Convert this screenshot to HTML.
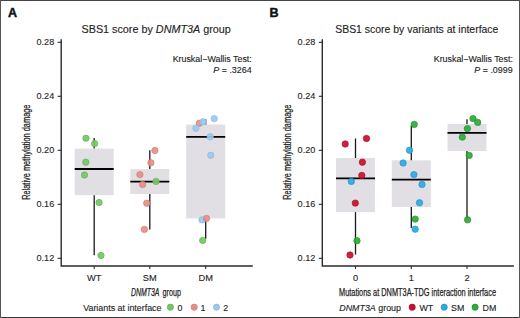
<!DOCTYPE html>
<html><head><meta charset="utf-8"><style>
html,body{margin:0;padding:0;background:#fff;}

svg{display:block;}
</style></head><body>
<svg width="520" height="318" viewBox="0 0 520 318">
<rect x="0" y="0" width="520" height="318" fill="#fff"/>
<rect x="74.70" y="148.6" width="39.0" height="46.60" fill="#e1dfe3"/>
<line x1="94.2" y1="138.0" x2="94.2" y2="148.6" stroke="#1a1a1a" stroke-width="1.3"/>
<line x1="94.2" y1="195.2" x2="94.2" y2="255.3" stroke="#1a1a1a" stroke-width="1.3"/>
<line x1="74.70" y1="169.0" x2="113.70" y2="169.0" stroke="#000" stroke-width="1.8"/>
<rect x="130.30" y="169.1" width="39.0" height="24.90" fill="#e1dfe3"/>
<line x1="149.8" y1="150.2" x2="149.8" y2="169.1" stroke="#1a1a1a" stroke-width="1.3"/>
<line x1="149.8" y1="194.0" x2="149.8" y2="229.4" stroke="#1a1a1a" stroke-width="1.3"/>
<line x1="130.30" y1="181.7" x2="169.30" y2="181.7" stroke="#000" stroke-width="1.8"/>
<rect x="186.20" y="124.5" width="39.0" height="93.90" fill="#e1dfe3"/>
<line x1="205.7" y1="119.3" x2="205.7" y2="124.5" stroke="#1a1a1a" stroke-width="1.3"/>
<line x1="205.7" y1="218.4" x2="205.7" y2="239.0" stroke="#1a1a1a" stroke-width="1.3"/>
<line x1="186.20" y1="136.8" x2="225.20" y2="136.8" stroke="#000" stroke-width="1.8"/>
<circle cx="85.95" cy="138.2" r="3.2" fill="#76c566" fill-opacity="0.92" stroke="#63ad58" stroke-width="0.7" stroke-opacity="0.9"/>
<circle cx="94.6" cy="143.6" r="3.2" fill="#76c566" fill-opacity="0.92" stroke="#63ad58" stroke-width="0.7" stroke-opacity="0.9"/>
<circle cx="85.8" cy="162.2" r="3.2" fill="#76c566" fill-opacity="0.92" stroke="#63ad58" stroke-width="0.7" stroke-opacity="0.9"/>
<circle cx="84.5" cy="175" r="3.2" fill="#76c566" fill-opacity="0.92" stroke="#63ad58" stroke-width="0.7" stroke-opacity="0.9"/>
<circle cx="99.1" cy="202.5" r="3.2" fill="#76c566" fill-opacity="0.92" stroke="#63ad58" stroke-width="0.7" stroke-opacity="0.9"/>
<circle cx="101" cy="255.5" r="3.2" fill="#76c566" fill-opacity="0.92" stroke="#63ad58" stroke-width="0.7" stroke-opacity="0.9"/>
<circle cx="154.9" cy="150.5" r="3.2" fill="#e58f88" fill-opacity="0.92" stroke="#d27a74" stroke-width="0.7" stroke-opacity="0.9"/>
<circle cx="150.9" cy="162.8" r="3.2" fill="#e58f88" fill-opacity="0.92" stroke="#d27a74" stroke-width="0.7" stroke-opacity="0.9"/>
<circle cx="139.9" cy="174.6" r="3.2" fill="#e58f88" fill-opacity="0.92" stroke="#d27a74" stroke-width="0.7" stroke-opacity="0.9"/>
<circle cx="142.6" cy="184.5" r="3.2" fill="#e58f88" fill-opacity="0.92" stroke="#d27a74" stroke-width="0.7" stroke-opacity="0.9"/>
<circle cx="156" cy="181.4" r="3.2" fill="#76c566" fill-opacity="0.92" stroke="#63ad58" stroke-width="0.7" stroke-opacity="0.9"/>
<circle cx="146.7" cy="203.2" r="3.2" fill="#e58f88" fill-opacity="0.92" stroke="#d27a74" stroke-width="0.7" stroke-opacity="0.9"/>
<circle cx="144.4" cy="229.4" r="3.2" fill="#e58f88" fill-opacity="0.92" stroke="#d27a74" stroke-width="0.7" stroke-opacity="0.9"/>
<circle cx="199.3" cy="123.3" r="3.2" fill="#e58f88" fill-opacity="0.92" stroke="#d27a74" stroke-width="0.7" stroke-opacity="0.9"/>
<circle cx="214.2" cy="118.6" r="3.2" fill="#98caef" fill-opacity="0.92" stroke="#86b9e0" stroke-width="0.7" stroke-opacity="0.9"/>
<circle cx="203.1" cy="121.7" r="3.2" fill="#98caef" fill-opacity="0.92" stroke="#86b9e0" stroke-width="0.7" stroke-opacity="0.9"/>
<circle cx="195.9" cy="128.2" r="3.2" fill="#98caef" fill-opacity="0.92" stroke="#86b9e0" stroke-width="0.7" stroke-opacity="0.9"/>
<circle cx="210.2" cy="136.8" r="3.2" fill="#98caef" fill-opacity="0.92" stroke="#86b9e0" stroke-width="0.7" stroke-opacity="0.9"/>
<circle cx="210.8" cy="155.3" r="3.2" fill="#98caef" fill-opacity="0.92" stroke="#86b9e0" stroke-width="0.7" stroke-opacity="0.9"/>
<circle cx="202" cy="219.9" r="3.2" fill="#98caef" fill-opacity="0.92" stroke="#86b9e0" stroke-width="0.7" stroke-opacity="0.9"/>
<circle cx="206.5" cy="218.4" r="3.2" fill="#e58f88" fill-opacity="0.92" stroke="#d27a74" stroke-width="0.7" stroke-opacity="0.9"/>
<circle cx="202.7" cy="240.4" r="3.2" fill="#76c566" fill-opacity="0.92" stroke="#63ad58" stroke-width="0.7" stroke-opacity="0.9"/>
<path d="M61.2 39.3 V266 H252.8" fill="none" stroke="#2b2b2b" stroke-width="1.4"/>
<line x1="57.7" y1="42.3" x2="61.2" y2="42.3" stroke="#2b2b2b" stroke-width="1.1"/>
<text x="54.2" y="45.3" text-anchor="end" font-size="9.1" fill="#262626" font-family="Liberation Sans" stroke="#262626" stroke-width="0.12">0.28</text>
<line x1="57.7" y1="96.3" x2="61.2" y2="96.3" stroke="#2b2b2b" stroke-width="1.1"/>
<text x="54.2" y="99.3" text-anchor="end" font-size="9.1" fill="#262626" font-family="Liberation Sans" stroke="#262626" stroke-width="0.12">0.24</text>
<line x1="57.7" y1="150.3" x2="61.2" y2="150.3" stroke="#2b2b2b" stroke-width="1.1"/>
<text x="54.2" y="153.3" text-anchor="end" font-size="9.1" fill="#262626" font-family="Liberation Sans" stroke="#262626" stroke-width="0.12">0.20</text>
<line x1="57.7" y1="204.3" x2="61.2" y2="204.3" stroke="#2b2b2b" stroke-width="1.1"/>
<text x="54.2" y="207.3" text-anchor="end" font-size="9.1" fill="#262626" font-family="Liberation Sans" stroke="#262626" stroke-width="0.12">0.16</text>
<line x1="57.7" y1="258.3" x2="61.2" y2="258.3" stroke="#2b2b2b" stroke-width="1.1"/>
<text x="54.2" y="261.3" text-anchor="end" font-size="9.1" fill="#262626" font-family="Liberation Sans" stroke="#262626" stroke-width="0.12">0.12</text>
<line x1="94.2" y1="266" x2="94.2" y2="269" stroke="#2b2b2b" stroke-width="1.1"/>
<text x="94.2" y="280.7" text-anchor="middle" font-size="9.3" fill="#262626" font-family="Liberation Sans" stroke="#262626" stroke-width="0.12">WT</text>
<line x1="149.8" y1="266" x2="149.8" y2="269" stroke="#2b2b2b" stroke-width="1.1"/>
<text x="149.8" y="280.7" text-anchor="middle" font-size="9.3" fill="#262626" font-family="Liberation Sans" stroke="#262626" stroke-width="0.12">SM</text>
<line x1="205.7" y1="266" x2="205.7" y2="269" stroke="#2b2b2b" stroke-width="1.1"/>
<text x="205.7" y="280.7" text-anchor="middle" font-size="9.3" fill="#262626" font-family="Liberation Sans" stroke="#262626" stroke-width="0.12">DM</text>
<rect x="336.00" y="158.0" width="39.0" height="54.10" fill="#e1dfe3"/>
<line x1="355.5" y1="138.5" x2="355.5" y2="158.0" stroke="#1a1a1a" stroke-width="1.3"/>
<line x1="355.5" y1="212.1" x2="355.5" y2="254.5" stroke="#1a1a1a" stroke-width="1.3"/>
<line x1="336.00" y1="178.4" x2="375.00" y2="178.4" stroke="#000" stroke-width="1.8"/>
<rect x="391.80" y="160.3" width="39.0" height="46.70" fill="#e1dfe3"/>
<line x1="411.3" y1="125.4" x2="411.3" y2="160.3" stroke="#1a1a1a" stroke-width="1.3"/>
<line x1="411.3" y1="207.0" x2="411.3" y2="228.0" stroke="#1a1a1a" stroke-width="1.3"/>
<line x1="391.80" y1="179.6" x2="430.80" y2="179.6" stroke="#000" stroke-width="1.8"/>
<rect x="447.50" y="123.9" width="39.0" height="27.20" fill="#e1dfe3"/>
<line x1="467.0" y1="119.2" x2="467.0" y2="123.9" stroke="#1a1a1a" stroke-width="1.3"/>
<line x1="467.0" y1="151.1" x2="467.0" y2="219.2" stroke="#1a1a1a" stroke-width="1.3"/>
<line x1="447.50" y1="132.9" x2="486.50" y2="132.9" stroke="#000" stroke-width="1.8"/>
<circle cx="366.5" cy="138.5" r="3.2" fill="#cc0c30" fill-opacity="0.92" stroke="#a50c28" stroke-width="0.7" stroke-opacity="0.9"/>
<circle cx="345.2" cy="144" r="3.2" fill="#cc0c30" fill-opacity="0.92" stroke="#a50c28" stroke-width="0.7" stroke-opacity="0.9"/>
<circle cx="362.4" cy="162.2" r="3.2" fill="#cc0c30" fill-opacity="0.92" stroke="#a50c28" stroke-width="0.7" stroke-opacity="0.9"/>
<circle cx="361.8" cy="175.4" r="3.2" fill="#cc0c30" fill-opacity="0.92" stroke="#a50c28" stroke-width="0.7" stroke-opacity="0.9"/>
<circle cx="351.3" cy="181.4" r="3.2" fill="#2aaae4" fill-opacity="0.92" stroke="#2390c8" stroke-width="0.7" stroke-opacity="0.9"/>
<circle cx="355.3" cy="203.1" r="3.2" fill="#cc0c30" fill-opacity="0.92" stroke="#a50c28" stroke-width="0.7" stroke-opacity="0.9"/>
<circle cx="357" cy="240.8" r="3.2" fill="#2fab36" fill-opacity="0.92" stroke="#208a28" stroke-width="0.7" stroke-opacity="0.9"/>
<circle cx="350" cy="255" r="3.2" fill="#cc0c30" fill-opacity="0.92" stroke="#a50c28" stroke-width="0.7" stroke-opacity="0.9"/>
<circle cx="414.2" cy="124.4" r="3.2" fill="#2fab36" fill-opacity="0.92" stroke="#208a28" stroke-width="0.7" stroke-opacity="0.9"/>
<circle cx="409.5" cy="150.3" r="3.2" fill="#2aaae4" fill-opacity="0.92" stroke="#2390c8" stroke-width="0.7" stroke-opacity="0.9"/>
<circle cx="403.1" cy="163" r="3.2" fill="#2aaae4" fill-opacity="0.92" stroke="#2390c8" stroke-width="0.7" stroke-opacity="0.9"/>
<circle cx="413.9" cy="174.6" r="3.2" fill="#2aaae4" fill-opacity="0.92" stroke="#2390c8" stroke-width="0.7" stroke-opacity="0.9"/>
<circle cx="422" cy="184.4" r="3.2" fill="#2aaae4" fill-opacity="0.92" stroke="#2390c8" stroke-width="0.7" stroke-opacity="0.9"/>
<circle cx="419.5" cy="202.8" r="3.2" fill="#2aaae4" fill-opacity="0.92" stroke="#2390c8" stroke-width="0.7" stroke-opacity="0.9"/>
<circle cx="415.2" cy="219.1" r="3.2" fill="#2fab36" fill-opacity="0.92" stroke="#208a28" stroke-width="0.7" stroke-opacity="0.9"/>
<circle cx="415.2" cy="229.2" r="3.2" fill="#2aaae4" fill-opacity="0.92" stroke="#2390c8" stroke-width="0.7" stroke-opacity="0.9"/>
<circle cx="473" cy="118.6" r="3.2" fill="#2fab36" fill-opacity="0.92" stroke="#208a28" stroke-width="0.7" stroke-opacity="0.9"/>
<circle cx="477.7" cy="122.4" r="3.2" fill="#2fab36" fill-opacity="0.92" stroke="#208a28" stroke-width="0.7" stroke-opacity="0.9"/>
<circle cx="467.4" cy="128.6" r="3.2" fill="#2fab36" fill-opacity="0.92" stroke="#208a28" stroke-width="0.7" stroke-opacity="0.9"/>
<circle cx="462.3" cy="137.1" r="3.2" fill="#2fab36" fill-opacity="0.92" stroke="#208a28" stroke-width="0.7" stroke-opacity="0.9"/>
<circle cx="469.2" cy="155.4" r="3.2" fill="#2fab36" fill-opacity="0.92" stroke="#208a28" stroke-width="0.7" stroke-opacity="0.9"/>
<circle cx="467.6" cy="219.8" r="3.2" fill="#2fab36" fill-opacity="0.92" stroke="#208a28" stroke-width="0.7" stroke-opacity="0.9"/>
<path d="M322.3 39.3 V266 H513.9" fill="none" stroke="#2b2b2b" stroke-width="1.4"/>
<line x1="318.8" y1="42.3" x2="322.3" y2="42.3" stroke="#2b2b2b" stroke-width="1.1"/>
<text x="315.3" y="45.3" text-anchor="end" font-size="9.1" fill="#262626" font-family="Liberation Sans" stroke="#262626" stroke-width="0.12">0.28</text>
<line x1="318.8" y1="96.3" x2="322.3" y2="96.3" stroke="#2b2b2b" stroke-width="1.1"/>
<text x="315.3" y="99.3" text-anchor="end" font-size="9.1" fill="#262626" font-family="Liberation Sans" stroke="#262626" stroke-width="0.12">0.24</text>
<line x1="318.8" y1="150.3" x2="322.3" y2="150.3" stroke="#2b2b2b" stroke-width="1.1"/>
<text x="315.3" y="153.3" text-anchor="end" font-size="9.1" fill="#262626" font-family="Liberation Sans" stroke="#262626" stroke-width="0.12">0.20</text>
<line x1="318.8" y1="204.3" x2="322.3" y2="204.3" stroke="#2b2b2b" stroke-width="1.1"/>
<text x="315.3" y="207.3" text-anchor="end" font-size="9.1" fill="#262626" font-family="Liberation Sans" stroke="#262626" stroke-width="0.12">0.16</text>
<line x1="318.8" y1="258.3" x2="322.3" y2="258.3" stroke="#2b2b2b" stroke-width="1.1"/>
<text x="315.3" y="261.3" text-anchor="end" font-size="9.1" fill="#262626" font-family="Liberation Sans" stroke="#262626" stroke-width="0.12">0.12</text>
<line x1="355.5" y1="266" x2="355.5" y2="269" stroke="#2b2b2b" stroke-width="1.1"/>
<text x="355.5" y="280.7" text-anchor="middle" font-size="9.3" fill="#262626" font-family="Liberation Sans" stroke="#262626" stroke-width="0.12">0</text>
<line x1="411.3" y1="266" x2="411.3" y2="269" stroke="#2b2b2b" stroke-width="1.1"/>
<text x="411.3" y="280.7" text-anchor="middle" font-size="9.3" fill="#262626" font-family="Liberation Sans" stroke="#262626" stroke-width="0.12">1</text>
<line x1="467.0" y1="266" x2="467.0" y2="269" stroke="#2b2b2b" stroke-width="1.1"/>
<text x="467.0" y="280.7" text-anchor="middle" font-size="9.3" fill="#262626" font-family="Liberation Sans" stroke="#262626" stroke-width="0.12">2</text>
<text x="7.9" y="16.8" font-size="12.5" font-weight="bold" fill="#111" font-family="Liberation Sans" stroke="#111" stroke-width="0.45">A</text>
<text x="269.4" y="16.6" font-size="12.5" font-weight="bold" fill="#111" font-family="Liberation Sans" stroke="#111" stroke-width="0.45">B</text>
<text x="81.5" y="32.8" font-size="10.4" fill="#222" font-family="Liberation Sans" textLength="149.3" lengthAdjust="spacingAndGlyphs" stroke="#222" stroke-width="0.12">SBS1 score by <tspan font-style="italic">DNMT3A</tspan> group</text>
<text x="335.2" y="32.8" font-size="10.4" fill="#222" font-family="Liberation Sans" textLength="163.2" lengthAdjust="spacingAndGlyphs" stroke="#222" stroke-width="0.12">SBS1 score by variants at interface</text>
<text x="251.8" y="61.6" text-anchor="end" font-size="8.9" fill="#222" font-family="Liberation Sans" stroke="#222" stroke-width="0.12">Kruskal−Wallis Test:</text>
<text x="251.6" y="72.6" text-anchor="end" font-size="8.9" fill="#222" font-family="Liberation Sans" stroke="#222" stroke-width="0.12"><tspan font-style="italic">P</tspan> = .3264</text>
<text x="512.9" y="61.6" text-anchor="end" font-size="8.9" fill="#222" font-family="Liberation Sans" stroke="#222" stroke-width="0.12">Kruskal−Wallis Test:</text>
<text x="512.6" y="72.6" text-anchor="end" font-size="8.9" fill="#222" font-family="Liberation Sans" stroke="#222" stroke-width="0.12"><tspan font-style="italic">P</tspan> = .0999</text>
<text transform="translate(29.6,152.2) rotate(-90)" text-anchor="middle" font-size="10.7" fill="#222" font-family="Liberation Sans" textLength="95.3" lengthAdjust="spacingAndGlyphs" stroke="#222" stroke-width="0.25">Relative methylation damage</text>
<text transform="translate(290.70000000000005,152.2) rotate(-90)" text-anchor="middle" font-size="10.7" fill="#222" font-family="Liberation Sans" textLength="95.3" lengthAdjust="spacingAndGlyphs" stroke="#222" stroke-width="0.25">Relative methylation damage</text>
<text x="131.0" y="295.5" font-size="10.7" font-style="italic" fill="#222" font-family="Liberation Sans" textLength="28.4" lengthAdjust="spacingAndGlyphs" stroke="#222" stroke-width="0.25">DNMT3A</text>
<text x="162.6" y="295.5" font-size="10.7" fill="#222" font-family="Liberation Sans" textLength="18.4" lengthAdjust="spacingAndGlyphs" stroke="#222" stroke-width="0.25">group</text>
<text x="417.5" y="295.5" text-anchor="middle" font-size="10.7" fill="#222" font-family="Liberation Sans" textLength="157" lengthAdjust="spacingAndGlyphs" stroke="#222" stroke-width="0.25">Mutations at DNMT3A-TDG interaction interface</text>
<text x="83.2" y="310.5" font-size="8.9" fill="#222" font-family="Liberation Sans" stroke="#222" stroke-width="0.12">Variants at interface</text>
<circle cx="170.4" cy="307.2" r="3.1" fill="#76c566" stroke="#63ad58" stroke-width="0.7"/>
<text x="177.6" y="310.5" font-size="8.9" fill="#222" font-family="Liberation Sans" stroke="#222" stroke-width="0.12">0</text>
<circle cx="194.2" cy="307.2" r="3.1" fill="#e58f88" stroke="#d27a74" stroke-width="0.7"/>
<text x="200.6" y="310.5" font-size="8.9" fill="#222" font-family="Liberation Sans" stroke="#222" stroke-width="0.12">1</text>
<circle cx="216.5" cy="307.2" r="3.1" fill="#98caef" stroke="#86b9e0" stroke-width="0.7"/>
<text x="223.2" y="310.5" font-size="8.9" fill="#222" font-family="Liberation Sans" stroke="#222" stroke-width="0.12">2</text>
<text x="339.3" y="310.5" font-size="8.9" fill="#222" font-family="Liberation Sans" stroke="#222" stroke-width="0.12"><tspan font-style="italic">DNMT3A</tspan> group</text>
<circle cx="412.2" cy="307.2" r="3.1" fill="#cc0c30" stroke="#a50c28" stroke-width="0.7"/>
<text x="419.4" y="310.5" font-size="8.9" fill="#222" font-family="Liberation Sans" stroke="#222" stroke-width="0.12">WT</text>
<circle cx="444.2" cy="307.2" r="3.1" fill="#2aaae4" stroke="#2390c8" stroke-width="0.7"/>
<text x="451" y="310.5" font-size="8.9" fill="#222" font-family="Liberation Sans" stroke="#222" stroke-width="0.12">SM</text>
<circle cx="475.1" cy="307.2" r="3.1" fill="#2fab36" stroke="#208a28" stroke-width="0.7"/>
<text x="482.6" y="310.5" font-size="8.9" fill="#222" font-family="Liberation Sans" stroke="#222" stroke-width="0.12">DM</text>
<rect x="0" y="0" width="520" height="1" fill="#444"/>
<rect x="0" y="317" width="520" height="1" fill="#383838"/>
<rect x="0" y="0" width="1" height="318" fill="#555"/>
<rect x="519" y="0" width="1" height="318" fill="#555"/>
</svg>
</body></html>
